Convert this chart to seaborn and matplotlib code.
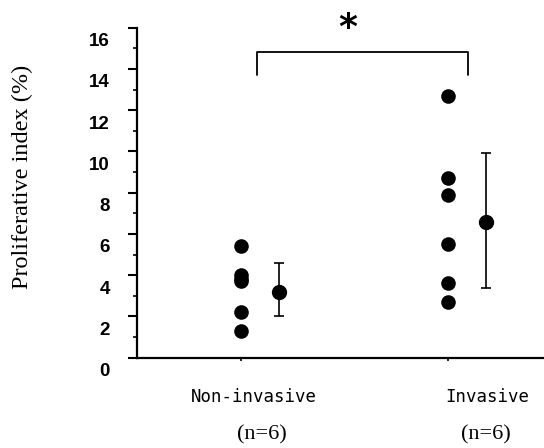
import numpy as np
import pandas as pd
import matplotlib
matplotlib.use("Agg")
import matplotlib.pyplot as plt
from matplotlib.transforms import ScaledTranslation, blended_transform_factory
from matplotlib.ticker import MultipleLocator
import seaborn as sns

# Valores
grupos = ["Non-invasive", "Invasive"]
n_grupo = ["(n=6)", "(n=6)"]
no_invasivo = [5.4, 4.0, 3.8, 3.7, 2.2, 1.3]
invasivo = [12.7, 8.7, 7.9, 5.5, 3.6, 2.7]
medias = [3.2, 6.6]
sd_inf = [2.0, 3.4]
sd_sup = [4.6, 9.9]
y_ticks = [0, 2, 4, 6, 8, 10, 12, 14, 16]

df = pd.DataFrame({
    "grupo": [grupos[0]] * len(no_invasivo) + [grupos[1]] * len(invasivo),
    "indice": no_invasivo + invasivo,
})

sns.set_style("white")
plt.rcParams["font.family"] = ["DejaVu Sans"]
plt.rcParams["text.color"] = "black"
plt.rcParams["xtick.color"] = "black"
plt.rcParams["ytick.color"] = "black"

fig = plt.figure(figsize=(5.44, 4.48), dpi=100)
ax = fig.add_axes([0.252, 0.2016, 0.748, 0.7366])

# Puntos individuales
sns.stripplot(data=df, x="grupo", y="indice", order=grupos, jitter=False,
              color="black", size=10.5, ax=ax, zorder=3)

# Media ± DE desplazada a la derecha
desplaz = 0.185
x_media = np.arange(len(grupos)) + desplaz
ax.errorbar(x_media, medias,
            yerr=[np.array(medias) - np.array(sd_inf), np.array(sd_sup) - np.array(medias)],
            fmt="o", color="black", ms=10, lw=1.2, capsize=3.5, capthick=1.2, zorder=3)

# Corchete de significancia
ax.plot([0.077, 0.077, 1.097, 1.097], [13.7, 14.8, 14.8, 13.7], color="black", lw=1.3)
ax.text(0.518, 16.0, "*", ha="center", va="center", fontsize=26, fontweight="bold",
        clip_on=False)

ax.set_xlim(-0.5, 1.465)
ax.set_ylim(0, 16)
ax.set_yticks(y_ticks)
ax.yaxis.set_minor_locator(MultipleLocator(1))
ax.set_xticks([0, 1])
ax.set_xticklabels([])
ax.set_xlabel("")
ax.set_ylabel("")

for lado in ["top", "right"]:
    ax.spines[lado].set_visible(False)
for lado in ["left", "bottom"]:
    ax.spines[lado].set_linewidth(1.6)
    ax.spines[lado].set_color("black")

ax.tick_params(axis="y", which="major", direction="out", length=6.5, width=1.5,
               pad=13, labelsize=13.5, left=True, colors="black")
ax.tick_params(axis="y", which="minor", direction="out", length=3, width=1.2, left=True)
ax.tick_params(axis="x", direction="out", length=2.5, width=1.2, bottom=True)

# Las etiquetas del eje y aparecen desplazadas hacia abajo en el original
desp_y = ScaledTranslation(0, -12 / 100, fig.dpi_scale_trans)
for lab in ax.get_yticklabels():
    lab.set_fontweight("bold")
    lab.set_family("Liberation Sans")
    lab.set_transform(lab.get_transform() + desp_y)

# Etiquetas de categoría
trans = blended_transform_factory(ax.transData, fig.transFigure)
centros = [0.064, 1.19]
centros_n = [0.103, 1.185]
for i, g in enumerate(grupos):
    ax.text(centros[i], 1 - 397 / 448, g, transform=trans, ha="center", va="center",
            family="DejaVu Sans Mono", fontsize=12.5)
    ax.text(centros_n[i], 1 - 435 / 448, n_grupo[i], transform=trans,
            ha="center", va="center", family="Liberation Serif", fontsize=16)

fig.text(22 / 544, 1 - 177 / 448, "Proliferative index (%)", rotation=90,
         ha="center", va="center", family="Liberation Serif", fontsize=17.5)

fig.savefig("out.png", dpi=100)
